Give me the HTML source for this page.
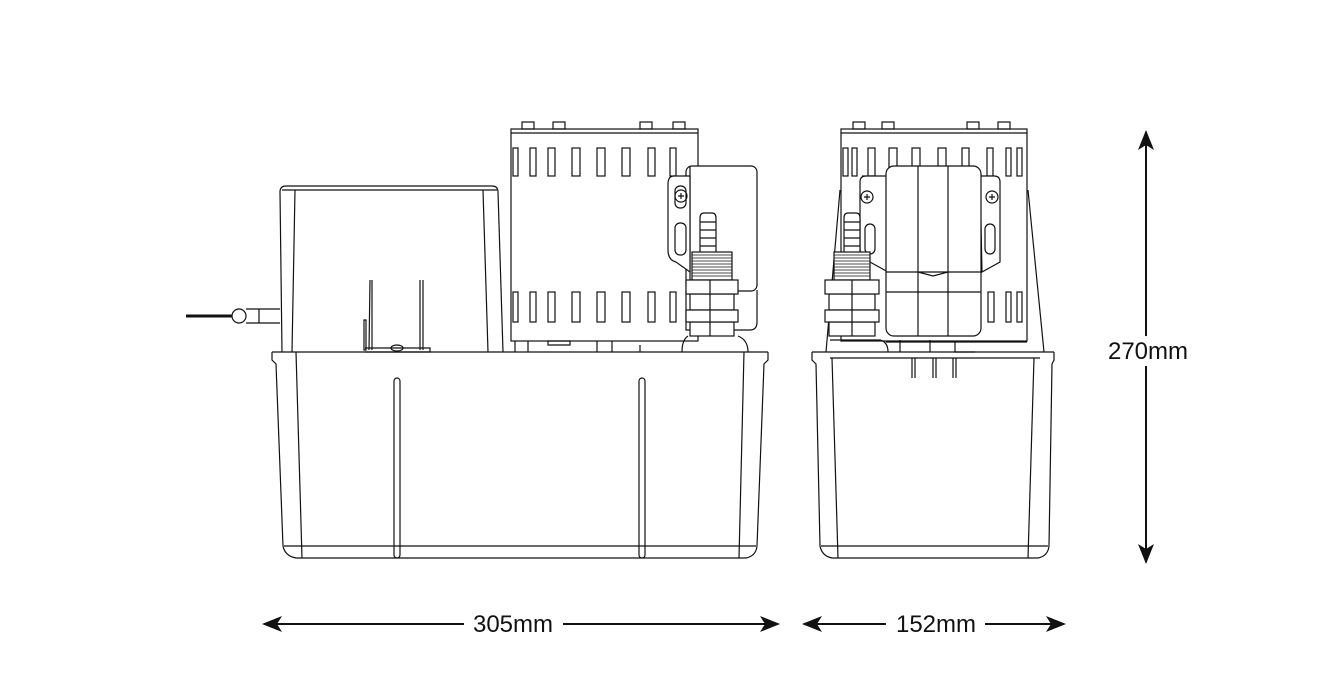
<!DOCTYPE html>
<html><head><meta charset="utf-8"><style>
html,body{margin:0;padding:0;background:#fff;}
svg{display:block}
text{font-family:"Liberation Sans",sans-serif;font-size:24px;fill:#111}
</style></head><body>
<svg width="1341" height="688" viewBox="0 0 1341 688" xmlns="http://www.w3.org/2000/svg">
<defs>
<marker id="ah" viewBox="0 0 20 16" refX="18" refY="8" markerWidth="20" markerHeight="16" markerUnits="userSpaceOnUse" orient="auto-start-reverse">
<path d="M0,0 L20,8 L0,16 L5,8 Z" fill="#111"/>
</marker>
</defs>
<g fill="none" stroke="#111" stroke-width="1.2">
<!-- LEFT UNIT -->
<line x1="186" y1="316" x2="232" y2="316" stroke-width="3"/>
<circle cx="239" cy="316" r="7" fill="#fff"/>
<path d="M246,309 H280 M246,323 H280 M259,309 V323"/>
<path d="M282,352 L280,192 Q280,186 286,186 H492 Q498,186 498,192 L503,352"/>
<line x1="282" y1="190" x2="497" y2="190"/>
<path d="M295,190 L292,352 M483,190 L488,352"/>
<path d="M370,280 L369,350 M372,280 L372,350 M420,280 L420,350 M423,280 L423,350 M364,320 V350 H366 V320 Z M365,352 H430 V348 H365"/>
<ellipse cx="397" cy="348" rx="6" ry="3"/>
<path d="M272,352 H768 M272,352 L272,360 L276,364 L283,546 Q285,556 296,558 H746 Q756,556 757,546 L764,364 L768,360 L768,352"/>
<path d="M296,352 L302,558 M744,352 L739,558 M284,546 H756"/>
<rect x="394" y="378" width="6" height="180" rx="3"/>
<rect x="639" y="378" width="6" height="180" rx="3"/>
<rect x="511" y="129" width="187" height="212"/>
<line x1="511" y1="133" x2="698" y2="133"/>
<g>
<rect x="522" y="122" width="12" height="7"/><rect x="553" y="122" width="12" height="7"/>
<rect x="640" y="122" width="12" height="7"/><rect x="673" y="122" width="12" height="7"/>
</g>
<g>
<rect x="513" y="148" width="5" height="28"/><rect x="530" y="148" width="6" height="28"/>
<rect x="548" y="148" width="7" height="28"/><rect x="572" y="148" width="8" height="28"/>
<rect x="597" y="148" width="8" height="28"/><rect x="622" y="148" width="8" height="28"/>
<rect x="648" y="148" width="7" height="28"/><rect x="670" y="148" width="6" height="28"/>
<rect x="513" y="292" width="5" height="30"/><rect x="530" y="292" width="6" height="30"/>
<rect x="548" y="292" width="7" height="30"/><rect x="572" y="292" width="8" height="30"/>
<rect x="597" y="292" width="8" height="30"/><rect x="622" y="292" width="8" height="30"/>
<rect x="648" y="292" width="7" height="30"/><rect x="670" y="292" width="6" height="30"/>
</g>
<path d="M515,341 V352 M528,341 V352 M597,341 V352 M612,341 V352 M548,341 H570 V345 H548 Z M640,345 V352"/>
<!-- outlet box -->
<path d="M686,290 V330 H750 Q757,330 757,322 V290" fill="#fff"/>
<rect x="686" y="166" width="71" height="125" rx="6" fill="#fff"/>
<path d="M690,166 V290"/>
<path d="M674,176 H690 V272 L676,262 Q668,260 668,250 V184 Q668,176 674,176 Z" fill="#fff"/>
<circle cx="681" cy="196" r="6"/><path d="M678,196 H684 M681,193 V199"/>
<rect x="675" y="186" width="11" height="22" rx="5"/>
<rect x="675" y="223" width="11" height="32" rx="5"/>
<path d="M700,252 V218 Q700,213 704,213 H712 Q716,213 716,218 V252" fill="#fff"/>
<path d="M700,222 H716 M700,230 H716 M700,238 H716 M700,246 H716"/>
<rect x="692" y="252" width="40" height="28" fill="#fff"/>
<g stroke-width="0.8"><path d="M692,255 H732 M692,258 H732 M692,261 H732 M692,264 H732 M692,267 H732 M692,270 H732 M692,273 H732 M692,276 H732"/></g>
<rect x="690" y="294" width="44" height="16" fill="#fff"/>
<rect x="690" y="322" width="44" height="14" fill="#fff"/>
<rect x="686" y="280" width="52" height="14" fill="#fff"/>
<rect x="686" y="310" width="52" height="12" fill="#fff"/>
<path d="M710,280 V336 M688,336 Q682,340 682,352 M738,336 Q748,340 748,352"/>

<!-- RIGHT UNIT -->
<path d="M812,352 H1054 M812,352 L812,360 L816,364 L820,546 Q822,556 832,558 H1038 Q1048,556 1049,546 L1052,364 L1054,360 L1054,352"/>
<path d="M832,358 L838,558 M1034,358 L1028,558 M821,546 H1048 M830,358 H1040"/>
<path d="M912,358 V378 M915,358 V378 M933,358 V378 M936,358 V378 M953,358 V378 M956,358 V378"/>
<rect x="841" y="129" width="186" height="212"/>
<line x1="841" y1="133" x2="1027" y2="133"/>
<rect x="853" y="122" width="12" height="7"/><rect x="882" y="122" width="12" height="7"/>
<rect x="967" y="122" width="12" height="7"/><rect x="998" y="122" width="12" height="7"/>
<path d="M840,190 L826,352 M1028,190 L1044,352"/>
<g>
<rect x="843" y="148" width="5" height="28"/><rect x="852" y="148" width="5" height="28"/>
<rect x="868" y="148" width="7" height="28"/><rect x="889" y="148" width="8" height="28"/>
<rect x="912" y="148" width="8" height="28"/><rect x="938" y="148" width="8" height="28"/>
<rect x="962" y="148" width="7" height="28"/><rect x="987" y="148" width="6" height="28"/>
<rect x="1006" y="148" width="5" height="28"/><rect x="1017" y="148" width="5" height="28"/>
<rect x="988" y="292" width="6" height="30"/><rect x="1006" y="292" width="5" height="30"/>
<rect x="1017" y="292" width="5" height="30"/>
</g>
<path d="M862,176 H888 V272 L870,262 L864,258 Q860,256 860,248 V182 Q860,176 866,176 Z" fill="#fff"/>
<path d="M980,176 H994 Q1000,176 1000,182 V262 L982,272 Z" fill="#fff"/>
<circle cx="867" cy="197" r="6"/><path d="M864,197 H870 M867,194 V200"/>
<circle cx="992" cy="197" r="6"/><path d="M989,197 H995 M992,194 V200"/>
<rect x="865" y="224" width="10" height="30" rx="5"/>
<rect x="985" y="224" width="10" height="30" rx="5"/>
<rect x="886" y="166" width="95" height="170" rx="8" fill="#fff"/>
<path d="M886,272 H981 M886,292 H981 M918,166 V336 M948,166 V336 M918,272 L933,276 L948,272"/>
<path d="M844,252 V218 Q844,213 848,213 H856 Q860,213 860,218 V252" fill="#fff"/>
<path d="M844,222 H860 M844,230 H860 M844,238 H860 M844,246 H860"/>
<rect x="834" y="252" width="36" height="28" fill="#fff"/>
<g stroke-width="0.8"><path d="M834,255 H870 M834,258 H870 M834,261 H870 M834,264 H870 M834,267 H870 M834,270 H870 M834,273 H870 M834,276 H870"/></g>
<rect x="829" y="294" width="46" height="16" fill="#fff"/>
<rect x="829" y="322" width="46" height="14" fill="#fff"/>
<rect x="825" y="280" width="54" height="14" fill="#fff"/>
<rect x="825" y="310" width="54" height="12" fill="#fff"/>
<path d="M852,280 V336 M830,340 H880 Q888,342 888,352"/>
<path d="M886,342 H1027 M900,340 V352 M930,340 V352 M955,342 V352 H975"/>
</g>

<g stroke="#111" stroke-width="2">
<line x1="264" y1="624" x2="464" y2="624" marker-start="url(#ah)"/>
<line x1="563" y1="624" x2="778" y2="624" marker-end="url(#ah)"/>
<line x1="804" y1="624" x2="886" y2="624" marker-start="url(#ah)"/>
<line x1="985" y1="624" x2="1064" y2="624" marker-end="url(#ah)"/>
<line x1="1146" y1="132" x2="1146" y2="562" marker-start="url(#ah)" marker-end="url(#ah)"/>
</g>
<rect x="1100" y="336" width="95" height="30" fill="#fff"/>
<text x="513" y="632" text-anchor="middle">305mm</text>
<text x="936" y="632" text-anchor="middle">152mm</text>
<text x="1148" y="359" text-anchor="middle">270mm</text>
</svg>
</body></html>
